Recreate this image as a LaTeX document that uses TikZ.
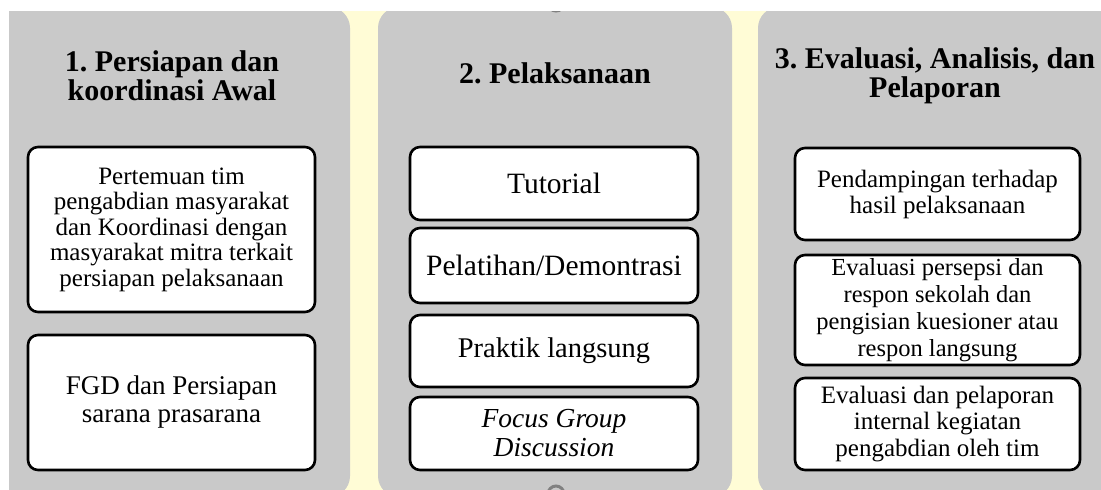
\documentclass[tikz,border=0pt]{standalone}
\usepackage{fontspec}
\setmainfont{Liberation Serif}
\newfontfamily\serifA{Liberation Serif}
\frenchspacing
\definecolor{cream}{RGB}{255,252,214}
\definecolor{panelgray}{RGB}{201,201,201}
\definecolor{ringgray}{RGB}{128,128,128}
\begin{document}
\begin{tikzpicture}[x=1pt,y=-1pt,
  panel/.style={fill=panelgray, rounded corners=21pt},
  stepbox/.style={draw=black, line width=2.6pt, fill=white, rounded corners=10pt,
    inner sep=0pt, align=center, text=black},
  ttl/.style={align=center, inner sep=0pt, font=\serifA\fontsize{30}{29}\selectfont\bfseries},
  ring/.style={draw=ringgray, line width=3pt}
]
\useasboundingbox (0,0) rectangle (1101,490);
\fill[white] (0,0) rectangle (1101,490);
\begin{scope}
  \clip (9,11) rectangle (1101,490);
  \fill[cream] (9,11) rectangle (1101,490);
  \fill[panel] (-15,7) rectangle (350,497);
  \fill[panel] (378,7) rectangle (732,497);
  \fill[panel] (758,7) rectangle (1112,497);
  \draw[ring] (556,3) circle (8);
  \draw[ring] (556,494) circle (8);
\end{scope}

% titles
\node[ttl] (t1) at (172,76) {1. Persiapan dan\\koordinasi Awal};
\node[ttl] (t2) at (555,73) {2. Pelaksanaan};
\node[ttl] (t3) at (935,76) {3. Evaluasi, Analisis, dan\\Pelaporan};

% panel 1
\node[stepbox, minimum width=287pt, minimum height=165pt,
  font=\serifA\fontsize{25}{25.5}\selectfont] (a1) at (171.5,229.5)
  {Pertemuan tim\\pengabdian masyarakat\\dan Koordinasi dengan\\masyarakat mitra terkait\\persiapan pelaksanaan};
\node[stepbox, minimum width=287pt, minimum height=135pt,
  font=\serifA\fontsize{27}{28}\selectfont] (a2) at (171.5,402.5)
  {FGD dan Persiapan\\sarana prasarana};

% panel 2
\node[stepbox, minimum width=288pt, minimum height=73pt,
  font=\serifA\fontsize{29.5}{30}\selectfont] (b1) at (554,183.5) {Tutorial};
\node[stepbox, minimum width=288pt, minimum height=75pt,
  font=\serifA\fontsize{29.5}{30}\selectfont] (b2) at (554,265.5) {Pelatihan/Demontrasi};
\node[stepbox, minimum width=288pt, minimum height=72pt,
  font=\serifA\fontsize{28.5}{30}\selectfont] (b3) at (554,351) {Praktik langsung};
\node[stepbox, minimum width=288pt, minimum height=73pt,
  font=\serifA\fontsize{27.5}{29}\selectfont\itshape] (b4) at (554,433.5) {Focus Group\\Discussion};

% panel 3
\node[stepbox, minimum width=285pt, minimum height=92pt,
  font=\serifA\fontsize{25}{26}\selectfont] (c1) at (937.5,194)
  {Pendampingan terhadap\\hasil pelaksanaan};
\node[stepbox, minimum width=285pt, minimum height=110pt,
  font=\serifA\fontsize{24.5}{27}\selectfont] (c2) at (937.5,310)
  {Evaluasi persepsi dan\\respon sekolah dan\\pengisian kuesioner atau\\respon langsung};
\node[stepbox, minimum width=285pt, minimum height=92pt,
  font=\serifA\fontsize{25}{26.5}\selectfont] (c3) at (937.5,424)
  {Evaluasi dan pelaporan\\internal kegiatan\\pengabdian oleh tim};
\end{tikzpicture}
\end{document}
